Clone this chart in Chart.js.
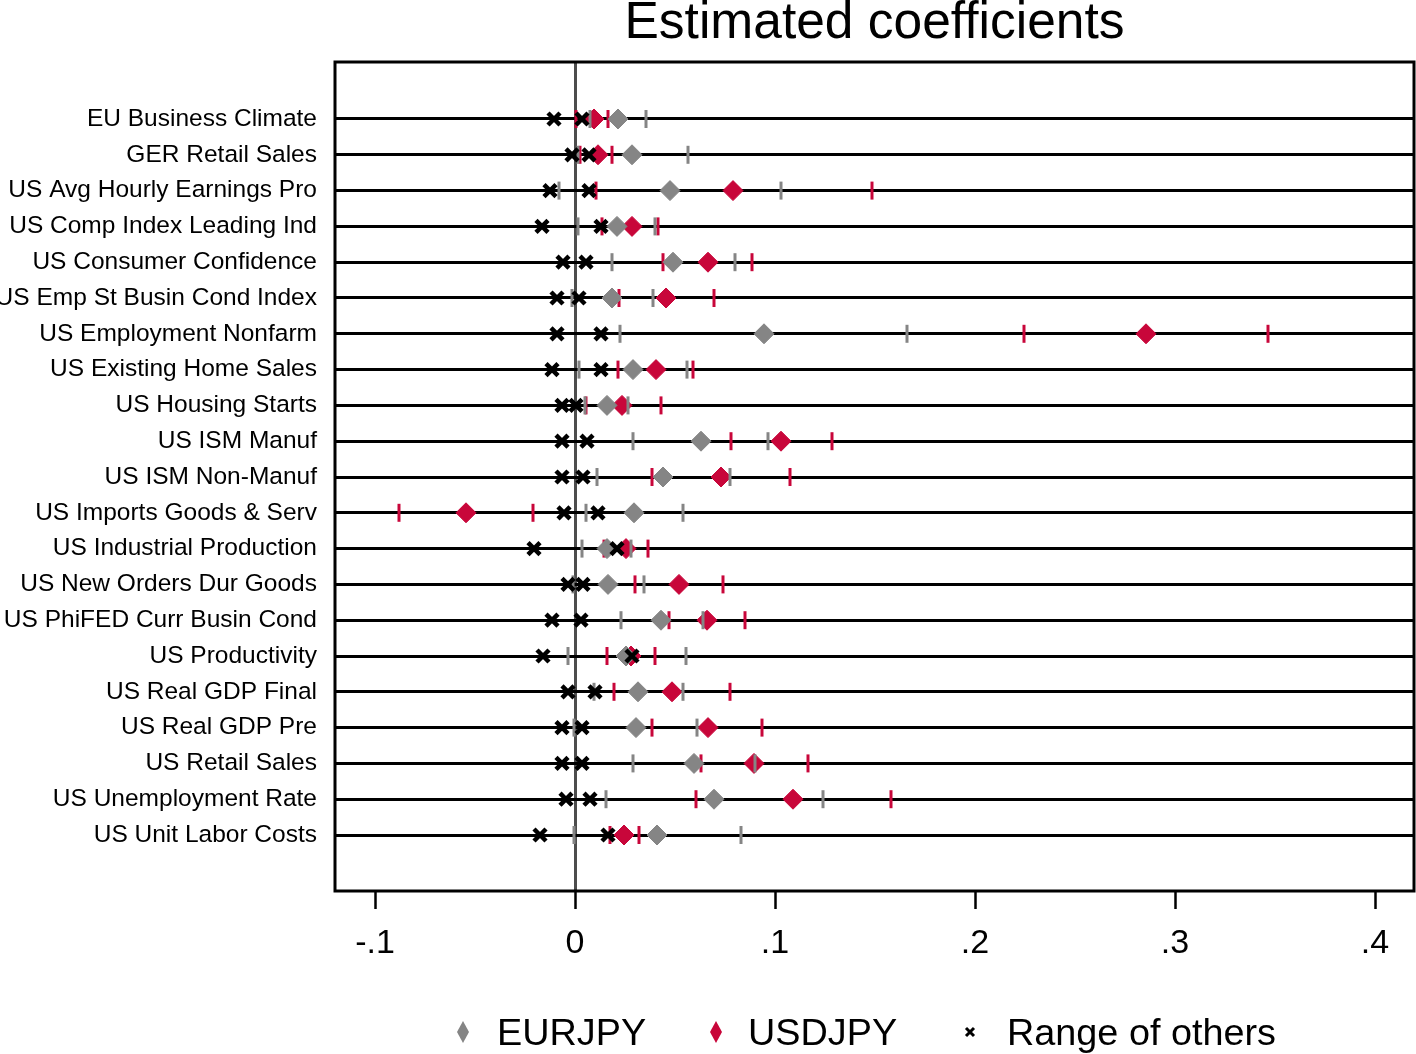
<!DOCTYPE html>
<html>
<head>
<meta charset="utf-8">
<title>Estimated coefficients</title>
<script src="https://cdn.jsdelivr.net/npm/chart.js@4.4.1/dist/chart.umd.min.js"></script>
<style>
  html, body { margin: 0; padding: 0; background: #fff; }
  canvas { display: block; }
</style>
</head>
<body>
<canvas id="coefChart" width="1416" height="1054"></canvas>
<script>
const titleText = "Estimated coefficients";

const categories = [
  "EU Business Climate", "GER Retail Sales", "US Avg Hourly Earnings Pro",
  "US Comp Index Leading Ind", "US Consumer Confidence", "US Emp St Busin Cond Index",
  "US Employment Nonfarm", "US Existing Home Sales", "US Housing Starts",
  "US ISM Manuf", "US ISM Non-Manuf", "US Imports Goods & Serv",
  "US Industrial Production", "US New Orders Dur Goods", "US PhiFED Curr Busin Cond",
  "US Productivity", "US Real GDP Final", "US Real GDP Pre",
  "US Retail Sales", "US Unemployment Rate", "US Unit Labor Costs"
];

const eurjpyCoef = [0.0215, 0.0285, 0.0475, 0.021, 0.049, 0.0185, 0.0945, 0.029, 0.016, 0.063, 0.044,
  0.0295, 0.016, 0.0165, 0.043, 0.0255, 0.0315, 0.0305, 0.0595, 0.0695, 0.041];
const eurjpyLo = [0.0075, 0.0015, -0.008, 0.0015, 0.0185, -0.0015, 0.0225, 0.002, 0.005, 0.029, 0.011,
  0.0055, 0.0035, -0.001, 0.023, -0.0035, 0.0095, -0.0005, 0.029, 0.0155, -0.0005];
const eurjpyHi = [0.0355, 0.0565, 0.103, 0.04, 0.08, 0.039, 0.166, 0.056, 0.0265, 0.0965, 0.0775,
  0.054, 0.028, 0.0345, 0.064, 0.0555, 0.054, 0.061, 0.09, 0.124, 0.083];

const usdjpyCoef = [0.0095, 0.0115, 0.079, 0.0285, 0.0665, 0.0455, 0.2855, 0.0405, 0.0235, 0.103, 0.073,
  -0.0545, 0.0255, 0.052, 0.066, 0.028, 0.0485, 0.0665, 0.0895, 0.109, 0.0245];
const usdjpyLo = [0.0005, 0.0025, 0.0105, 0.0135, 0.044, 0.022, 0.2245, 0.0215, 0.0055, 0.078, 0.0385,
  -0.088, 0.0145, 0.03, 0.047, 0.016, 0.0195, 0.0385, 0.063, 0.0605, 0.0175];
const usdjpyHi = [0.0165, 0.0185, 0.1485, 0.0415, 0.0885, 0.0695, 0.3465, 0.059, 0.043, 0.1285, 0.1075,
  -0.021, 0.0365, 0.074, 0.085, 0.04, 0.0775, 0.0935, 0.1165, 0.158, 0.032];

const othersMin = [-0.0105, -0.0015, -0.0125, -0.0165, -0.006, -0.009, -0.009, -0.0115, -0.0065, -0.0065, -0.0065,
  -0.0055, -0.0205, -0.0035, -0.0115, -0.016, -0.0035, -0.0065, -0.0065, -0.0045, -0.0175];
const othersMax = [0.0035, 0.007, 0.007, 0.013, 0.0055, 0.002, 0.013, 0.013, 0.0005, 0.006, 0.004,
  0.0115, 0.021, 0.004, 0.003, 0.0285, 0.01, 0.0035, 0.0035, 0.0075, 0.0165];

const xTicks = [-0.1, 0, 0.1, 0.2, 0.3, 0.4];

const GREY = "#858585";
const RED = "#c8063a";
const FONT = '"Liberation Sans", Arial, Helvetica, sans-serif';

function points(values) {
  return values.map(function (v, i) { return { x: v, y: i }; });
}

function formatTick(v) {
  if (Math.abs(v) < 1e-9) return "0";
  const s = String(Math.round(Math.abs(v) * 10) / 10).replace(/^0/, "");
  return (v < 0 ? "-" : "") + s;
}

const frameAndLegend = {
  id: "frameAndLegend",
  afterDraw(chart) {
    const ctx = chart.ctx;
    const a = chart.chartArea;
    ctx.save();
    ctx.strokeStyle = "#000";
    ctx.lineWidth = 3;
    ctx.strokeRect(a.left, a.top, a.right - a.left, a.bottom - a.top);

    ctx.fillStyle = "#000";
    ctx.font = "51.5px " + FONT;
    ctx.textAlign = "center";
    ctx.textBaseline = "alphabetic";
    ctx.fillText(titleText, (a.left + a.right) / 2, 38);

    const legendY = 1032;
    const items = [
      { label: chart.data.datasets[1].label, color: GREY, kind: "diamond", mx: 463, tx: 497 },
      { label: chart.data.datasets[3].label, color: RED, kind: "diamond", mx: 716, tx: 748 },
      { label: chart.data.datasets[0].label, color: "#000", kind: "cross", mx: 970, tx: 1007 }
    ];
    ctx.font = "37.8px " + FONT;
    ctx.textAlign = "left";
    items.forEach(function (it) {
      ctx.fillStyle = it.color;
      ctx.strokeStyle = it.color;
      if (it.kind === "diamond") {
        ctx.beginPath();
        ctx.moveTo(it.mx, legendY - 11);
        ctx.lineTo(it.mx + 6, legendY);
        ctx.lineTo(it.mx, legendY + 11);
        ctx.lineTo(it.mx - 6, legendY);
        ctx.closePath();
        ctx.fill();
      } else {
        ctx.lineWidth = 3;
        ctx.beginPath();
        ctx.moveTo(it.mx - 4, legendY - 4);
        ctx.lineTo(it.mx + 4, legendY + 4);
        ctx.moveTo(it.mx + 4, legendY - 4);
        ctx.lineTo(it.mx - 4, legendY + 4);
        ctx.stroke();
      }
      ctx.fillStyle = "#000";
      ctx.fillText(it.label, it.tx, legendY + 13);
    });
    ctx.restore();
  }
};

new Chart(document.getElementById("coefChart"), {
  type: "scatter",
  data: {
    datasets: [
      {
        label: "Range of others",
        data: points(othersMin).concat(points(othersMax)),
        pointStyle: "crossRot",
        pointRadius: 8.5,
        borderColor: "#000",
        backgroundColor: "#000",
        pointBorderWidth: 4.5
      },
      {
        label: "EURJPY",
        data: points(eurjpyCoef),
        pointStyle: "rectRot",
        pointRadius: 10,
        borderColor: GREY,
        backgroundColor: GREY,
        pointBorderWidth: 1
      },
      {
        label: "EURJPY CI",
        data: points(eurjpyLo).concat(points(eurjpyHi)),
        pointStyle: "line",
        rotation: 90,
        pointRadius: 9,
        borderColor: GREY,
        backgroundColor: GREY,
        pointBorderWidth: 3
      },
      {
        label: "USDJPY",
        data: points(usdjpyCoef),
        pointStyle: "rectRot",
        pointRadius: 10,
        borderColor: RED,
        backgroundColor: RED,
        pointBorderWidth: 1
      },
      {
        label: "USDJPY CI",
        data: points(usdjpyLo).concat(points(usdjpyHi)),
        pointStyle: "line",
        rotation: 90,
        pointRadius: 9,
        borderColor: RED,
        backgroundColor: RED,
        pointBorderWidth: 3
      }
    ]
  },
  options: {
    responsive: false,
    animation: false,
    devicePixelRatio: 1,
    layout: { autoPadding: false, padding: { left: 0, right: 2, top: 62, bottom: 0 } },
    plugins: {
      legend: { display: false },
      tooltip: { enabled: false },
      title: { display: false }
    },
    scales: {
      x: {
        type: "linear",
        min: -0.12,
        max: 0.4195,
        afterBuildTicks: function (scale) {
          scale.ticks = xTicks.map(function (v) { return { value: v }; });
        },
        afterFit: function (scale) {
          scale.height = 163;
          scale.paddingLeft = 0;
          scale.paddingRight = 0;
        },
        border: { display: false },
        grid: {
          drawOnChartArea: true,
          color: function (c) { return c.tick && Math.abs(c.tick.value) < 1e-9 ? "#4d4d4d" : "rgba(0,0,0,0)"; },
          lineWidth: 3,
          tickColor: "#000",
          tickLength: 18,
          tickWidth: 2.5
        },
        ticks: {
          color: "#000",
          font: { family: FONT, size: 34 },
          padding: 14,
          maxRotation: 0,
          autoSkip: false,
          callback: function (v) { return formatTick(v); }
        }
      },
      y: {
        type: "linear",
        reverse: true,
        min: -1.592,
        max: 21.564,
        afterBuildTicks: function (scale) {
          scale.ticks = categories.map(function (c, i) { return { value: i }; });
        },
        afterFit: function (scale) {
          scale.width = 335;
          scale.paddingTop = 0;
          scale.paddingBottom = 0;
        },
        border: { display: false },
        grid: {
          color: "#000",
          lineWidth: 3,
          drawTicks: false
        },
        ticks: {
          color: "#000",
          font: { family: FONT, size: 24.5 },
          padding: 18,
          autoSkip: false,
          callback: function (v) { return categories[v]; }
        }
      }
    }
  },
  plugins: [frameAndLegend]
});
</script>
</body>
</html>
